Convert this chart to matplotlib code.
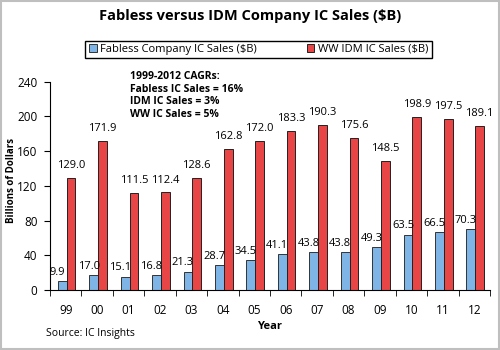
import numpy as np
import matplotlib.pyplot as plt
from matplotlib.patches import Rectangle

years = ['99', '00', '01', '02', '03', '04', '05', '06', '07', '08', '09', '10', '11', '12']
fabless = [9.9, 17.0, 15.1, 16.8, 21.3, 28.7, 34.5, 41.1, 43.8, 43.8, 49.3, 63.5, 66.5, 70.3]
idm = [129.0, 171.9, 111.5, 112.4, 128.6, 162.8, 172.0, 183.3, 190.3, 175.6, 148.5, 198.9, 197.5, 189.1]

plt.rcParams['font.family'] = ['Open Sans', 'DejaVu Sans']

fig = plt.figure(figsize=(5, 3.5), dpi=100)
fig.patches.append(Rectangle((0.002, 0.003), 0.995, 0.993, transform=fig.transFigure,
                             fill=False, edgecolor='#bfbfbf', linewidth=1.5))
ax = fig.add_axes([0.1, 0.1714, 0.88, 0.5952])

x = np.arange(len(years))
w = 0.28
b1 = ax.bar(x - w / 2 + 0.03, fabless, w, color='#7fb5e6', edgecolor='#333333', linewidth=0.7,
            label='Fabless Company IC Sales ($B)')
b2 = ax.bar(x + w / 2 + 0.03, idm, w, color='#e84646', edgecolor='#222222', linewidth=0.7,
            label='WW IDM IC Sales ($B)')

# value labels
for xi, v in zip(x, fabless):
    ax.text(xi - w / 2 - 0.13, v + 4, f'{v:.1f}', ha='center', va='bottom', fontsize=8)
for xi, v in zip(x, idm):
    ax.text(xi + w / 2 + 0.03, v + 8, f'{v:.1f}', ha='center', va='bottom', fontsize=8)

ax.set_xlim(-0.5, len(years) - 0.5)
ax.set_ylim(0, 240)
ax.set_yticks(range(0, 241, 40))
ax.set_xticks(x)
ax.set_xticklabels(years, fontsize=8.5)
ax.set_xticks(np.arange(-0.5, len(years), 1), minor=True)
ax.tick_params(axis='x', which='major', length=0, pad=10)
ax.tick_params(axis='x', which='minor', length=4, direction='out')
ax.tick_params(axis='y', labelsize=8.5, length=4, pad=5)
ax.spines['top'].set_visible(False)
ax.spines['right'].set_visible(False)

ax.set_ylabel('Billions of Dollars', fontsize=7, fontweight='bold')
ax.yaxis.set_label_coords(-0.075, 0.526)
ax.set_xlabel('Year', fontsize=8, fontweight='bold', labelpad=3)

ax.text(0.182, 1.05, '1999-2012 CAGRs:\nFabless IC Sales = 16%\nIDM IC Sales = 3%\nWW IC Sales = 5%',
        transform=ax.transAxes, fontsize=7.5, fontweight='bold', va='top', ha='left',
        linespacing=1.2)

fig.text(0.5, 0.953, 'Fabless versus IDM Company IC Sales ($B)', ha='center', va='center',
         fontsize=10.5, fontweight='bold')
fig.legend(handles=[b1, b2], loc='center', bbox_to_anchor=(0.517, 0.859), ncol=2,
           fontsize=8, frameon=True, fancybox=False, edgecolor='black',
           handlelength=0.7, handleheight=0.7, columnspacing=4.5, handletextpad=0.3,
           borderpad=0.3, framealpha=1)
fig.text(0.092, 0.048, 'Source: IC Insights', fontsize=7.5, ha='left', va='center')

fig.savefig('out.png', dpi=100)
